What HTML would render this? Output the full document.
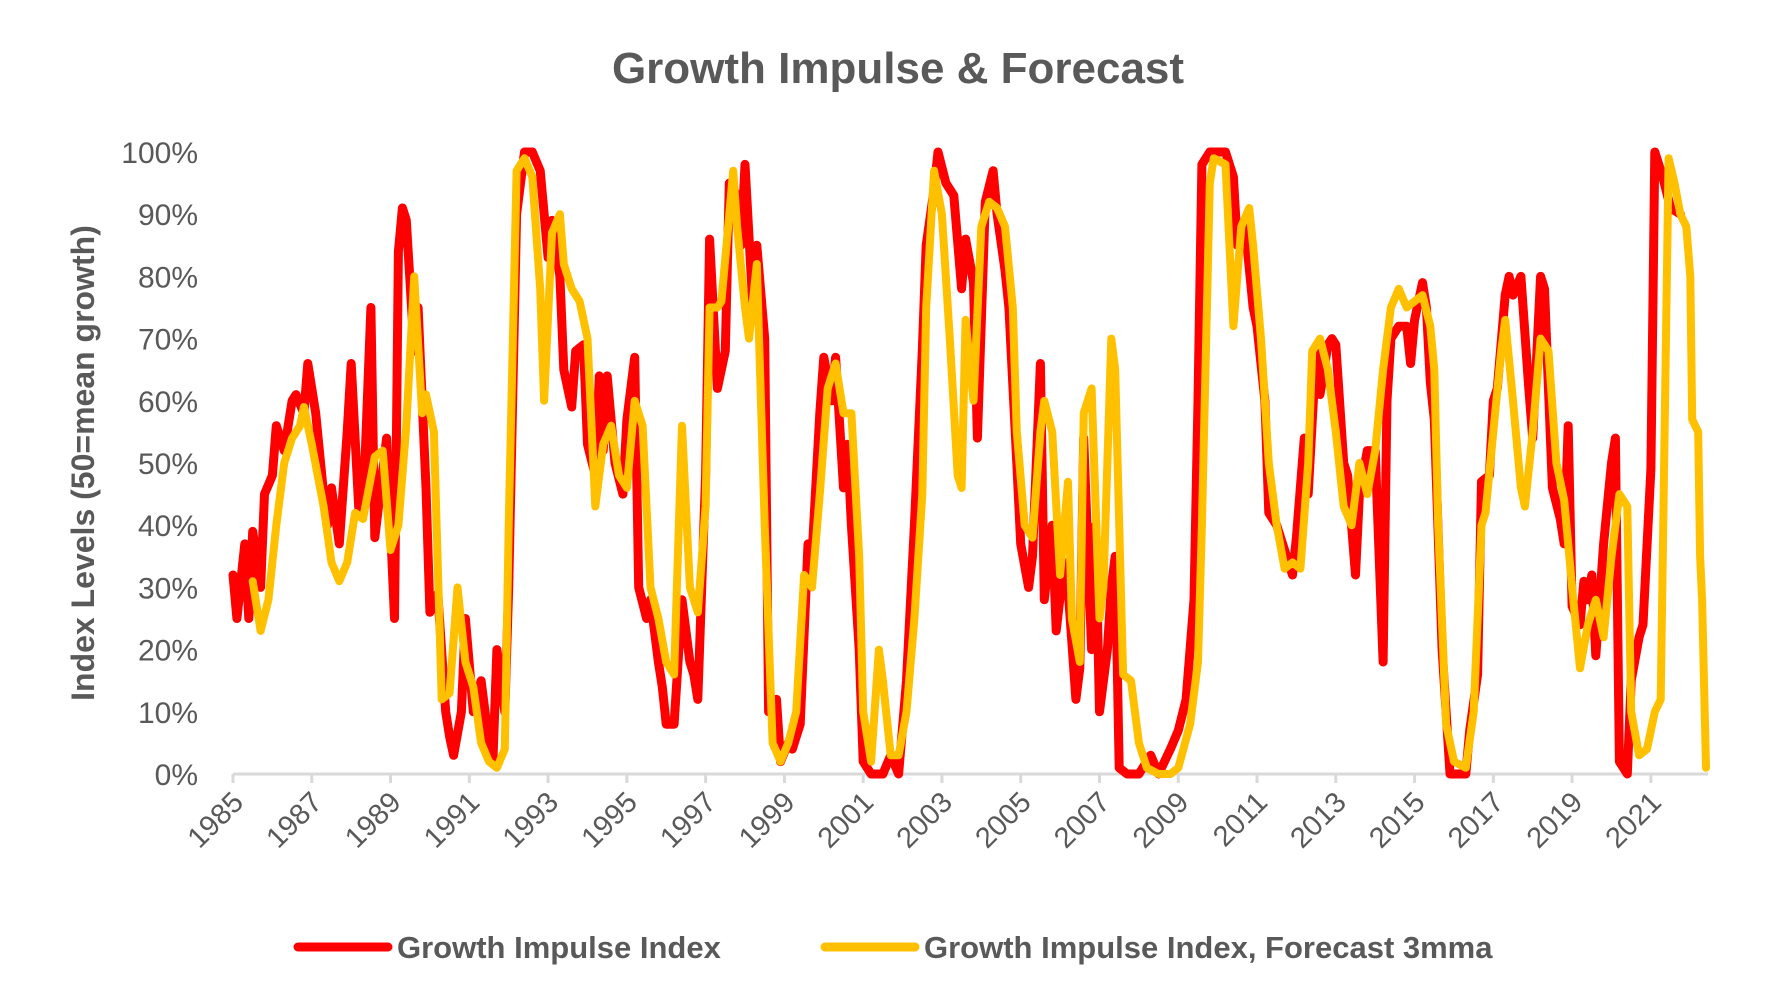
<!DOCTYPE html>
<html><head><meta charset="utf-8"><style>
body{margin:0;background:#fff;}
svg{display:block;font-family:"Liberation Sans",sans-serif;}
</style></head><body>
<svg id="chart" width="1788" height="1006" viewBox="0 0 1788 1006">
<text x="898" y="83" text-anchor="middle" font-size="44" font-weight="bold" fill="#595959">Growth Impulse &amp; Forecast</text>
<text transform="translate(94,463) rotate(-90)" text-anchor="middle" font-size="32" font-weight="bold" fill="#595959">Index Levels (50=mean growth)</text>
<g id="yticks"></g><g id="xticks"></g><g id="series"></g>
<g>
<g>
<line x1="298" y1="947" x2="388" y2="947" stroke="#FF0000" stroke-width="9" stroke-linecap="round"/>
<text x="397" y="958" font-size="31" font-weight="bold" fill="#595959">Growth Impulse Index</text></g>
<g>
<line x1="825" y1="947" x2="915" y2="947" stroke="#FFC000" stroke-width="9" stroke-linecap="round"/>
<text x="924" y="958" font-size="31" font-weight="bold" fill="#595959">Growth Impulse Index, Forecast 3mma</text></g>
</g>
</svg>
<script>
const yTicks=[0,10,20,30,40,50,60,70,80,90,100];
const xTickYears=[1985,1987,1989,1991,1993,1995,1997,1999,2001,2003,2005,2007,2009,2011,2013,2015,2017,2019,2021];
const redDates=[1985.0,1985.1,1985.3,1985.4,1985.5,1985.7,1985.8,1986.0,1986.1,1986.3,1986.5,1986.6,1986.8,1986.9,1987.1,1987.3,1987.4,1987.5,1987.7,1987.9,1988.0,1988.2,1988.3,1988.5,1988.6,1988.9,1989.1,1989.2,1989.3,1989.4,1989.6,1989.7,1989.9,1990.0,1990.2,1990.4,1990.5,1990.6,1990.8,1990.9,1991.1,1991.3,1991.5,1991.6,1991.7,1991.9,1992.0,1992.2,1992.4,1992.6,1992.8,1993.0,1993.1,1993.3,1993.4,1993.6,1993.7,1993.9,1994.0,1994.2,1994.3,1994.4,1994.5,1994.7,1994.9,1995.0,1995.2,1995.3,1995.5,1995.6,1995.8,1995.9,1996.0,1996.2,1996.4,1996.6,1996.7,1996.8,1997.0,1997.1,1997.3,1997.5,1997.6,1997.8,1997.9,1998.0,1998.2,1998.3,1998.5,1998.6,1998.8,1998.9,1999.1,1999.2,1999.4,1999.6,1999.7,1999.9,2000.0,2000.2,2000.3,2000.5,2000.6,2000.7,2000.9,2001.0,2001.2,2001.5,2001.7,2001.9,2002.1,2002.3,2002.5,2002.6,2002.8,2002.9,2003.1,2003.3,2003.5,2003.6,2003.8,2003.9,2004.1,2004.3,2004.4,2004.6,2004.7,2004.9,2005.0,2005.2,2005.3,2005.5,2005.6,2005.8,2005.9,2006.1,2006.2,2006.4,2006.5,2006.6,2006.8,2006.9,2007.0,2007.2,2007.3,2007.4,2007.5,2007.7,2008.0,2008.3,2008.5,2008.8,2009.0,2009.2,2009.4,2009.5,2009.6,2009.8,2010.2,2010.4,2010.5,2010.7,2010.9,2011.0,2011.2,2011.3,2011.5,2011.7,2011.9,2012.0,2012.2,2012.3,2012.5,2012.6,2012.8,2012.9,2013.0,2013.2,2013.3,2013.5,2013.6,2013.8,2014.0,2014.2,2014.3,2014.4,2014.6,2014.8,2014.9,2015.0,2015.2,2015.3,2015.4,2015.5,2015.7,2015.8,2015.9,2016.3,2016.4,2016.6,2016.7,2016.9,2017.0,2017.1,2017.3,2017.4,2017.5,2017.7,2017.9,2018.0,2018.2,2018.3,2018.5,2018.7,2018.8,2018.9,2019.0,2019.2,2019.3,2019.4,2019.5,2019.6,2019.8,2020.0,2020.1,2020.2,2020.4,2020.5,2020.7,2020.8,2021.0,2021.1,2021.3,2021.5,2021.75];
const redValues=[32,25,37,25,39,30,45,48,56,52,60,61,58,66,58,45,40,46,37,55,66,42,42,75,38,54,25,84,91,89,68,75,46,26,29,10,6,3,10,25,10,15,5,2,20,10,30,90,100,100,97,83,89,80,65,59,68,69,53,48,64,52,64,50,45,57,67,30,25,28,18,14,8,8,28,18,16,12,48,86,62,68,95,93,85,98,75,85,70,10,12,2,5,4,8,37,35,58,67,60,67,46,53,40,20,2,0,0,3,0,15,40,68,85,94,100,95,93,78,86,79,54,92,97,90,81,75,50,37,30,35,66,28,40,23,34,30,12,17,54,20,40,10,20,30,35,1,0,0,3,0,4,7,12,28,60,98,100,100,96,85,88,75,72,60,42,40,36,32,38,54,45,68,61,69,70,69,50,48,32,45,52,52,18,60,70,72,72,66,73,79,75,63,57,20,10,0,0,7,16,47,48,60,62,77,80,77,80,62,54,80,78,46,41,37,56,27,24,31,28,32,19,37,50,54,2,0,15,22,24,49,100,96,91,90];
const ylwDates=[1985.5,1985.7,1985.9,1986.1,1986.3,1986.5,1986.7,1986.8,1987.0,1987.3,1987.5,1987.7,1987.9,1988.1,1988.3,1988.6,1988.8,1989.0,1989.2,1989.4,1989.6,1989.8,1989.9,1990.1,1990.3,1990.5,1990.7,1990.9,1991.1,1991.3,1991.5,1991.7,1991.9,1992.0,1992.2,1992.4,1992.6,1992.8,1992.9,1993.1,1993.3,1993.4,1993.6,1993.8,1994.0,1994.2,1994.4,1994.6,1994.8,1995.0,1995.2,1995.4,1995.6,1995.8,1996.0,1996.2,1996.4,1996.6,1996.8,1997.0,1997.1,1997.3,1997.4,1997.6,1997.7,1997.8,1998.0,1998.1,1998.3,1998.5,1998.7,1998.9,1999.1,1999.3,1999.5,1999.7,1999.9,2000.1,2000.3,2000.5,2000.7,2000.9,2001.0,2001.2,2001.4,2001.5,2001.7,2001.9,2002.1,2002.3,2002.5,2002.6,2002.8,2003.0,2003.2,2003.4,2003.5,2003.6,2003.8,2004.0,2004.2,2004.4,2004.6,2004.8,2004.9,2005.1,2005.3,2005.5,2005.6,2005.8,2006.0,2006.2,2006.3,2006.5,2006.6,2006.8,2007.0,2007.1,2007.3,2007.4,2007.6,2007.8,2008.0,2008.2,2008.5,2008.8,2009.0,2009.3,2009.5,2009.6,2009.8,2009.9,2010.2,2010.4,2010.6,2010.8,2010.9,2011.1,2011.3,2011.5,2011.7,2011.9,2012.1,2012.3,2012.4,2012.6,2012.8,2013.0,2013.2,2013.4,2013.6,2013.8,2014.0,2014.2,2014.4,2014.6,2014.8,2015.0,2015.2,2015.4,2015.5,2015.6,2015.8,2016.0,2016.3,2016.5,2016.7,2016.8,2017.0,2017.2,2017.3,2017.5,2017.7,2017.8,2018.0,2018.2,2018.4,2018.6,2018.8,2019.0,2019.2,2019.4,2019.6,2019.8,2020.0,2020.2,2020.4,2020.5,2020.7,2020.9,2021.1,2021.25,2021.45,2021.6,2021.75,2021.9,2022.0,2022.05,2022.2,2022.25,2022.3,2022.4];
const ylwValues=[31,23,28,40,50,54,56,59,53,43,34,31,34,42,41,51,52,36,40,56,80,58,61,55,12,13,30,18,14,5,2,1,4,40,97,99,96,78,60,87,90,82,78,76,70,43,53,56,48,46,60,56,30,25,18,16,56,30,26,43,75,75,76,90,97,88,75,70,82,40,5,2,5,10,32,30,45,62,66,58,58,35,10,2,20,15,3,3,10,25,45,75,97,90,70,48,46,73,60,88,92,91,88,75,55,40,38,55,60,55,32,47,25,18,58,62,25,30,70,65,16,15,5,1,0,0,1,8,18,40,95,99,98,72,88,91,85,70,50,40,33,34,33,50,68,70,65,55,43,40,50,45,52,65,75,78,75,76,77,72,65,40,8,2,1,10,40,42,55,68,73,60,46,43,55,70,68,50,44,30,17,24,28,22,35,45,43,10,3,4,10,12,99,95,90,88,80,57,55,35,28,1];

const X0=233,X1=1708,Y0=774,Y1=152,YR0=1985,YR1=2022.45;
function xs(y){return X0+(y-YR0)/(YR1-YR0)*(X1-X0);}
function ys(v){return Y0-(v/100)*(Y0-Y1);}
const NS='http://www.w3.org/2000/svg';
function mk(t,a,p){const e=document.createElementNS(NS,t);for(const k in a)e.setAttribute(k,a[k]);p.appendChild(e);return e;}
const yg=document.getElementById('yticks');
yTicks.forEach(v=>{
  const t=mk('text',{x:198,y:ys(v)+11,'text-anchor':'end','font-size':'30',fill:'#595959'},yg);
  t.textContent=v+'%';
  
  
});
const xg=document.getElementById('xticks');
const ax=mk('line',{x1:X0,y1:Y0,x2:X1,y2:Y0,stroke:'#d9d9d9','stroke-width':3},xg);


xTickYears.forEach(yr=>{
  const x=xs(yr);
  const tk=mk('line',{x1:x,y1:Y0,x2:x,y2:Y0+9,stroke:'#d9d9d9','stroke-width':3},xg);
  
  
  const t=mk('text',{x:x+12,y:Y0+30,'text-anchor':'end','font-size':'29',fill:'#595959',transform:`rotate(-45 ${x+12} ${Y0+30})`},xg);
  t.textContent=yr;
  
  
});
const sg=document.getElementById('series');
function line(d,v,col,w,name){
  const pts=d.map((dt,i)=>xs(dt).toFixed(1)+','+ys(v[i]).toFixed(1)).join(' ');
  const p=mk('polyline',{points:pts,fill:'none',stroke:col,'stroke-width':w,'stroke-linejoin':'round','stroke-linecap':'round'},sg);
  
  
}
line(redDates,redValues,'#FF0000',9,'growth-impulse-index-line');
line(ylwDates,ylwValues,'#FFC000',8,'forecast-3mma-line');
</script>
</body></html>
